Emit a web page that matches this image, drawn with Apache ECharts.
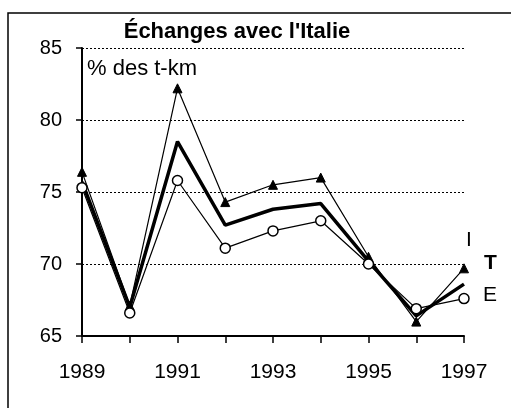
<!DOCTYPE html>
<html>
<head>
<meta charset="utf-8">
<script src="https://cdn.jsdelivr.net/npm/echarts@6/dist/echarts.min.js"></script>
<style>
  html, body { margin: 0; padding: 0; background: #fff; }
  #chart { width: 511px; height: 408px; }
</style>
</head>
<body>
<div id="chart"></div>
<script>
// données
var annees = [1989, 1990, 1991, 1992, 1993, 1994, 1995, 1996, 1997];
var serieI = [76.4, 67.1, 82.2, 74.3, 75.5, 76.0, 70.5, 66.0, 69.7];
var serieT = [75.7, 67.0, 78.5, 72.7, 73.8, 74.2, 70.2, 66.4, 68.6];
var serieE = [75.3, 66.6, 75.8, 71.1, 72.3, 73.0, 70.0, 66.9, 67.6];
var yTicks = [65, 70, 75, 80, 85];

var police = '"Liberation Sans", Arial, sans-serif';

function paires(vals) {
  return annees.map(function (a, i) { return [a, vals[i]]; });
}

var chart = echarts.init(document.getElementById('chart'));
chart.setOption({
  animation: false,
  title: {
    text: "Échanges avec l'Italie",
    left: 232,
    top: 16,
    textAlign: 'center',
    textStyle: { fontFamily: police, fontSize: 22, fontWeight: 'bold', color: '#000' }
  },
  graphic: [
    {
      type: 'rect',
      shape: { x: 8, y: 13, width: 520, height: 420 },
      style: { fill: 'none', stroke: '#000', lineWidth: 1.5 },
      silent: true
    },
    {
      type: 'text',
      left: 87,
      top: 58,
      style: { text: '% des t-km', font: '22px ' + police, fill: '#000' }
    }
  ],
  grid: { left: 82, right: 47, top: 48, bottom: 72 },
  xAxis: {
    type: 'value',
    min: annees[0],
    max: annees[annees.length - 1],
    interval: 1,
    axisLine: { lineStyle: { color: '#000', width: 2 } },
    axisTick: { show: true, length: 7, lineStyle: { color: '#000', width: 1.5 } },
    splitLine: { show: false },
    axisLabel: {
      color: '#000', fontFamily: police, fontSize: 21, margin: 26,
      formatter: function (v) { return (v - annees[0]) % 2 === 0 ? String(v) : ''; }
    }
  },
  yAxis: {
    type: 'value',
    min: yTicks[0],
    max: yTicks[yTicks.length - 1],
    interval: 5,
    axisLine: { show: true, lineStyle: { color: '#000', width: 2 } },
    axisTick: { show: true, inside: false, length: 6, lineStyle: { color: '#000', width: 1.5 } },
    splitLine: { show: true, lineStyle: { color: '#000', type: [2, 2], width: 1 } },
    axisLabel: { color: '#000', fontFamily: police, fontSize: 20, margin: 20 }
  },
  series: [
    {
      name: 'I',
      type: 'line',
      data: paires(serieI),
      symbol: 'triangle',
      symbolSize: 9,
      showAllSymbol: true,
      lineStyle: { color: '#000', width: 1.2 },
      itemStyle: { color: '#000', borderColor: '#000' },
      endLabel: {
        show: true, formatter: 'I', color: '#000', fontFamily: police, fontSize: 21,
        offset: [-6, -28]
      },
      z: 3
    },
    {
      name: 'T',
      type: 'line',
      data: paires(serieT),
      symbol: 'none',
      lineStyle: { color: '#000', width: 3.5 },
      endLabel: {
        show: true, formatter: 'T', color: '#000', fontFamily: police, fontSize: 21,
        fontWeight: 'bold', offset: [12, -21]
      },
      z: 2
    },
    {
      name: 'E',
      type: 'line',
      data: paires(serieE),
      symbol: 'circle',
      symbolSize: 10,
      showAllSymbol: true,
      lineStyle: { color: '#000', width: 1.2 },
      itemStyle: { color: '#fff', borderColor: '#000', borderWidth: 1.5 },
      endLabel: {
        show: true, formatter: 'E', color: '#000', fontFamily: police, fontSize: 21,
        offset: [11, -3]
      },
      z: 4
    }
  ]
});
</script>
</body>
</html>
